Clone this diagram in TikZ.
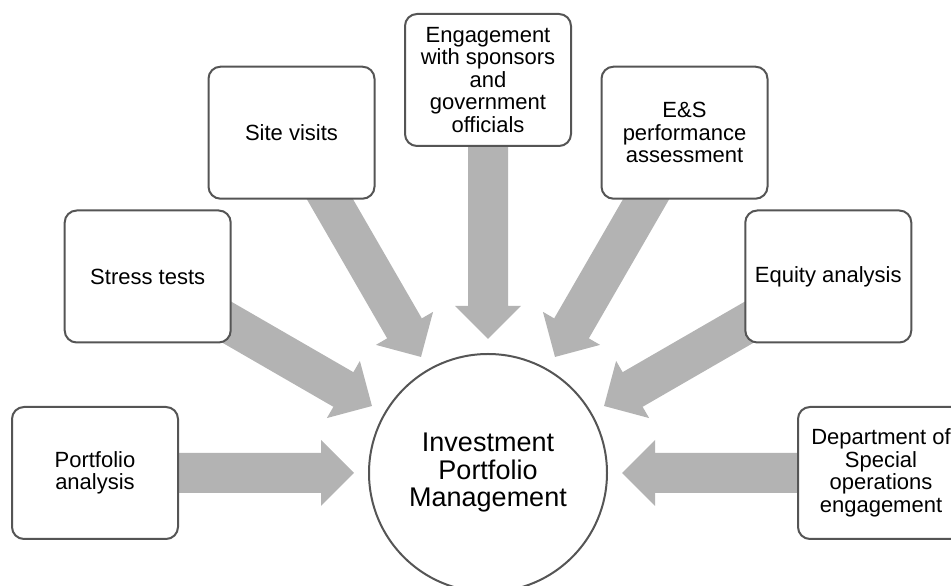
\documentclass[tikz,border=0pt]{standalone}
\usepackage{fontspec}
\setmainfont{Liberation Sans}
\usetikzlibrary{calc,backgrounds}
\definecolor{edgegray}{RGB}{85,85,85}
\definecolor{arrowgray}{RGB}{179,179,179}
\tikzset{
  topic/.style={draw=edgegray, line width=2pt, fill=white, rounded corners=12pt,
    minimum width=166pt, minimum height=132pt, align=center, inner sep=2pt,
    font=\fontsize{22}{22.5}\selectfont},
  hubstyle/.style={circle, draw=edgegray, line width=2pt, fill=white,
    minimum size=238pt, align=center, inner sep=0pt,
    font=\fontsize{27}{27.5}\selectfont},
  flow/.style={fill=arrowgray}
}
\newcommand\blockarrow[2]{%
  \fill[flow] ($(#1)!134pt!(#2)$)
    -- ($(#1)!167pt!(#2)!33pt!90:(#2)$)
    -- ($(#1)!167pt!(#2)!20pt!90:(#2)$)
    -- ($(#1)!340pt!(#2)!20pt!90:(#2)$)
    -- ($(#1)!340pt!(#2)!20pt!-90:(#2)$)
    -- ($(#1)!167pt!(#2)!20pt!-90:(#2)$)
    -- ($(#1)!167pt!(#2)!33pt!-90:(#2)$)
    -- cycle;}
\begin{document}
\begin{tikzpicture}[x=1pt,y=1pt]
\useasboundingbox (0,0) rectangle (951,586);
\node[hubstyle] (hub) at (488,113) {Investment\\Portfolio\\Management};
\node[topic] (pa) at (95,113) {Portfolio\\analysis};
\node[topic] (st) at (147.7,309.5) {Stress tests};
\node[topic] (sv) at (291.5,453.3) {Site visits};
\node[topic] (en) at (488,506) {Engagement\\with sponsors\\and\\government\\officials};
\node[topic] (es) at (684.5,453.3) {E\&S\\performance\\assessment};
\node[topic] (eq) at (828.3,309.5) {Equity analysis};
\node[topic] (dp) at (881,113) {Department of\\Special\\operations\\engagement};
\begin{scope}[on background layer]
\foreach \b in {pa,st,sv,en,es,eq,dp} {\blockarrow{hub.center}{\b.center}}
\end{scope}
\end{tikzpicture}
\end{document}
